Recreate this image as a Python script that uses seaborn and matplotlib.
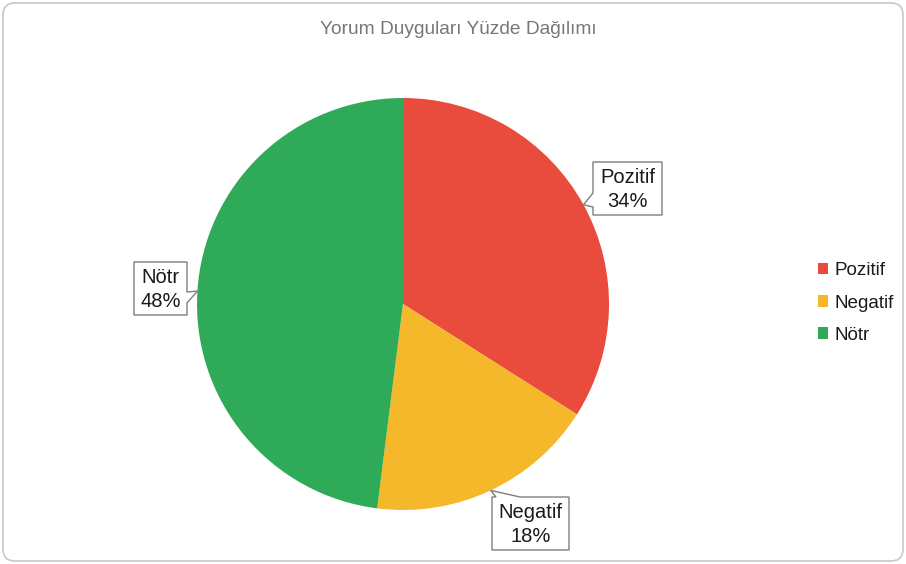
import numpy as np
import matplotlib
matplotlib.use("Agg")
import matplotlib.pyplot as plt
from matplotlib.patches import Polygon, FancyBboxPatch
import seaborn as sns

# ---- data ----
categories = ["Pozitif", "Negatif", "Nötr"]
percentages = [34, 18, 48]
colors = ["#E94B3C", "#F5B82A", "#2FAA58"]
title = "Yorum Duyguları Yüzde Dağılımı"

sns.set_theme(style="white")
plt.rcParams["font.family"] = ["Liberation Sans", "DejaVu Sans"]
palette = sns.color_palette(colors)

W, H = 906, 564
fig = plt.figure(figsize=(W / 100, H / 100), dpi=100)
fig.patch.set_facecolor("white")
ax = fig.add_axes([0, 0, 1, 1])
ax.set_xlim(0, W)
ax.set_ylim(0, H)
ax.set_aspect("equal")
ax.axis("off")

def Y(y_img):
    return H - y_img

cx, cy, R = 403, 304, 206
wedges, _ = ax.pie(percentages, colors=palette, startangle=90, counterclock=False,
                   center=(cx, Y(cy)), radius=R, wedgeprops=dict(linewidth=0))
ax.set_xlim(0, W)
ax.set_ylim(0, H)

# callout layout: box (x0, x1, y0, y1) in image px, notch side and range
layout = {
    "Pozitif": dict(box=(593, 662, 162, 215), side="left", notch=(193, 207)),
    "Negatif": dict(box=(492, 569, 497, 550), side="top", notch=(496, 520)),
    "Nötr": dict(box=(134, 187, 262, 315), side="right", notch=(292, 303)),
}

for w, cat, pct in zip(wedges, categories, percentages):
    mid = np.deg2rad((w.theta1 + w.theta2) / 2)
    tx = cx + R * np.cos(mid)
    ty = cy - R * np.sin(mid)
    L = layout[cat]
    x0, x1, y0, y1 = L["box"]
    a, b = L["notch"]
    if L["side"] == "left":
        pts = [(x0, y0), (x1, y0), (x1, y1), (x0, y1), (x0, b), (tx, ty), (x0, a)]
    elif L["side"] == "right":
        pts = [(x0, y0), (x1, y0), (x1, a), (tx, ty), (x1, b), (x1, y1), (x0, y1)]
    else:  # top
        pts = [(x0, y0), (a, y0), (tx, ty), (b, y0), (x1, y0), (x1, y1), (x0, y1)]
    pts = [(px, Y(py)) for px, py in pts]
    ax.add_patch(Polygon(pts, closed=True, facecolor="white", edgecolor="#7f7f7f",
                         linewidth=1.0, zorder=5))
    ax.text((x0 + x1) / 2, Y((y0 + y1) / 2 + 1), f"{cat}\n{pct}%", ha="center", va="center",
            fontsize=14.5, color="#1a1a1a", linespacing=1.3, zorder=6)

ax.text(458, Y(30), title, ha="center", va="center", fontsize=13.8, color="#777777")

leg = ax.legend(wedges, categories, loc="center left", bbox_to_anchor=(801 / W, 1 - 303 / H),
                bbox_transform=fig.transFigure, frameon=False, fontsize=13.6,
                handlelength=0.55, handleheight=0.55, handletextpad=0.3, labelspacing=0.8)
for t in leg.get_texts():
    t.set_color("#1a1a1a")

fig.patches.append(FancyBboxPatch((3, 3), W - 6, H - 6, boxstyle="round,pad=0,rounding_size=12",
                                  transform=None, facecolor="none", edgecolor="#c8c8c8",
                                  linewidth=1.2, figure=fig))

fig.savefig("out.png", dpi=100)
